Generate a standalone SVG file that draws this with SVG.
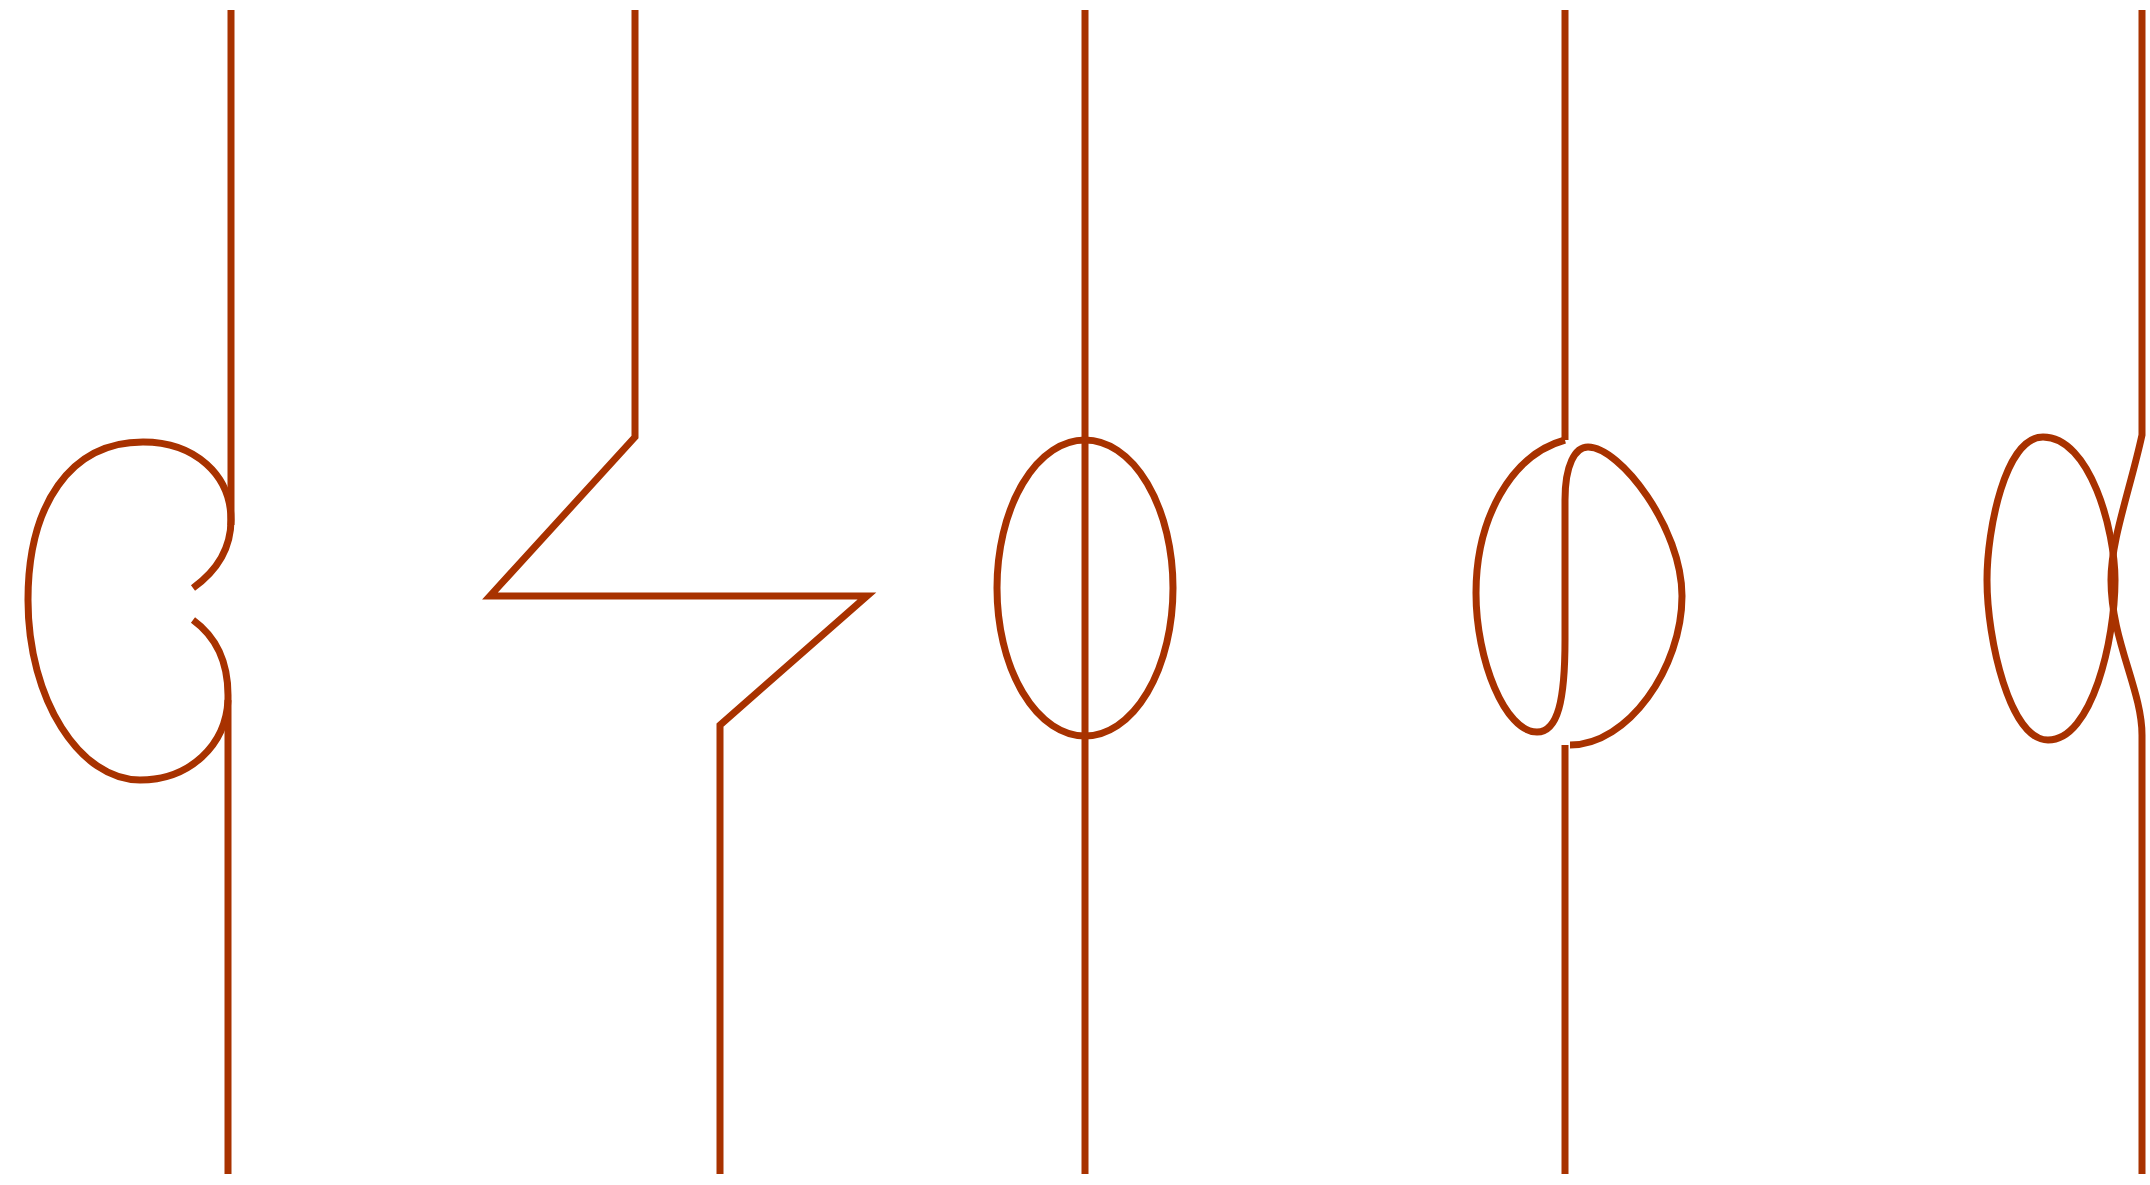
<svg xmlns="http://www.w3.org/2000/svg" width="2150" height="1185" viewBox="0 0 2150 1185">
<style>
.s{fill:none;stroke:#a83200;stroke-width:7;stroke-linejoin:miter;stroke-miterlimit:10}
</style>
<rect width="2150" height="1185" fill="#ffffff"/>
<g id="fig1">
<path class="s" d="M231,10 V525"/>
<path class="s" d="M193,588 C218,570 231,548 231,520 C231,475 195,442 143,442 C70,442 28,505 28,600 C28,700 80,780 140,780 C190,780 226,745 228,700"/>
<path class="s" d="M193,620 C215,636 228,660 228,695 V1174"/>
</g>
<g id="fig2">
<path class="s" d="M635,10 V437 L490,596 H867 L720,725 V1174"/>
</g>
<g id="fig3">
<path class="s" d="M1085,10 V1174"/>
<ellipse class="s" cx="1085" cy="588" rx="88" ry="148"/>
</g>
<g id="fig4">
<path class="s" d="M1565,10 V440"/>
<path class="s" d="M1565,440 C1510,455 1476,520 1476,593 C1476,660 1505,732 1537,732 C1558,732 1565,700 1565,640 L1565,500 C1565,465 1575,447 1588,447 C1620,447 1682,528 1682,596 C1682,668 1628,745 1570,745"/>
<path class="s" d="M1565,745 V1174"/>
</g>
<g id="fig5">
<path class="s" d="M2142,10 V435 C2130,490 2111,540 2111,580 C2111,640 2142,690 2142,735 V1174"/>
<path class="s" d="M2043,437 C2005,437 1987,530 1987,580 C1987,640 2010,740 2048,740 C2092,740 2115,640 2115,580 C2115,530 2090,437 2043,437 Z"/>
</g>
</svg>
